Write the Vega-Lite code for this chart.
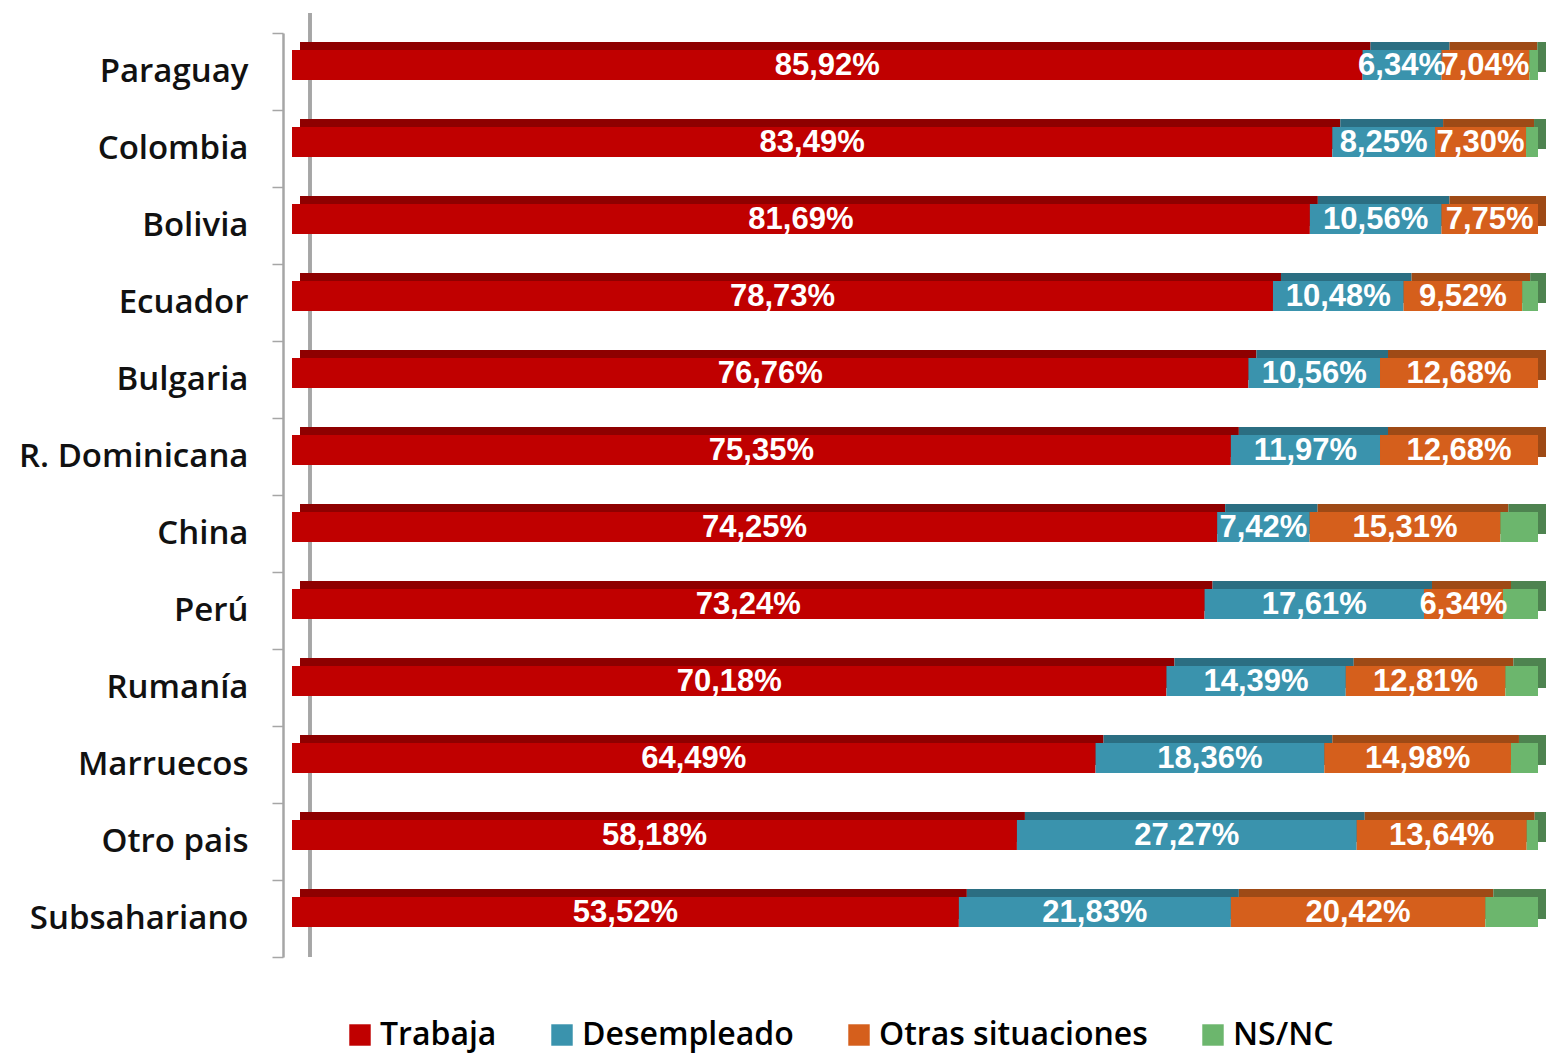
{
  "$schema": "https://vega.github.io/schema/vega-lite/v6.json",
  "width": 1246,
  "height": 924,
  "autosize": "none",
  "padding": {"left": 292, "top": 33, "right": 13, "bottom": 99},
  "background": "white",
  "config": {"view": {"stroke": null}},
  "data": {"values": [
    {"country": "Paraguay", "cat": "Trabaja", "o": 1, "v": 85.92, "lbl": "85,92%"},
    {"country": "Paraguay", "cat": "Desempleado", "o": 2, "v": 6.34, "lbl": "6,34%"},
    {"country": "Paraguay", "cat": "Otras situaciones", "o": 3, "v": 7.04, "lbl": "7,04%"},
    {"country": "Paraguay", "cat": "NS/NC", "o": 4, "v": 0.70, "lbl": ""},
    {"country": "Colombia", "cat": "Trabaja", "o": 1, "v": 83.49, "lbl": "83,49%"},
    {"country": "Colombia", "cat": "Desempleado", "o": 2, "v": 8.25, "lbl": "8,25%"},
    {"country": "Colombia", "cat": "Otras situaciones", "o": 3, "v": 7.30, "lbl": "7,30%"},
    {"country": "Colombia", "cat": "NS/NC", "o": 4, "v": 0.96, "lbl": ""},
    {"country": "Bolivia", "cat": "Trabaja", "o": 1, "v": 81.69, "lbl": "81,69%"},
    {"country": "Bolivia", "cat": "Desempleado", "o": 2, "v": 10.56, "lbl": "10,56%"},
    {"country": "Bolivia", "cat": "Otras situaciones", "o": 3, "v": 7.75, "lbl": "7,75%"},
    {"country": "Bolivia", "cat": "NS/NC", "o": 4, "v": 0.0, "lbl": ""},
    {"country": "Ecuador", "cat": "Trabaja", "o": 1, "v": 78.73, "lbl": "78,73%"},
    {"country": "Ecuador", "cat": "Desempleado", "o": 2, "v": 10.48, "lbl": "10,48%"},
    {"country": "Ecuador", "cat": "Otras situaciones", "o": 3, "v": 9.52, "lbl": "9,52%"},
    {"country": "Ecuador", "cat": "NS/NC", "o": 4, "v": 1.27, "lbl": ""},
    {"country": "Bulgaria", "cat": "Trabaja", "o": 1, "v": 76.76, "lbl": "76,76%"},
    {"country": "Bulgaria", "cat": "Desempleado", "o": 2, "v": 10.56, "lbl": "10,56%"},
    {"country": "Bulgaria", "cat": "Otras situaciones", "o": 3, "v": 12.68, "lbl": "12,68%"},
    {"country": "Bulgaria", "cat": "NS/NC", "o": 4, "v": 0.0, "lbl": ""},
    {"country": "R. Dominicana", "cat": "Trabaja", "o": 1, "v": 75.35, "lbl": "75,35%"},
    {"country": "R. Dominicana", "cat": "Desempleado", "o": 2, "v": 11.97, "lbl": "11,97%"},
    {"country": "R. Dominicana", "cat": "Otras situaciones", "o": 3, "v": 12.68, "lbl": "12,68%"},
    {"country": "R. Dominicana", "cat": "NS/NC", "o": 4, "v": 0.0, "lbl": ""},
    {"country": "China", "cat": "Trabaja", "o": 1, "v": 74.25, "lbl": "74,25%"},
    {"country": "China", "cat": "Desempleado", "o": 2, "v": 7.42, "lbl": "7,42%"},
    {"country": "China", "cat": "Otras situaciones", "o": 3, "v": 15.31, "lbl": "15,31%"},
    {"country": "China", "cat": "NS/NC", "o": 4, "v": 3.02, "lbl": ""},
    {"country": "Perú", "cat": "Trabaja", "o": 1, "v": 73.24, "lbl": "73,24%"},
    {"country": "Perú", "cat": "Desempleado", "o": 2, "v": 17.61, "lbl": "17,61%"},
    {"country": "Perú", "cat": "Otras situaciones", "o": 3, "v": 6.34, "lbl": "6,34%"},
    {"country": "Perú", "cat": "NS/NC", "o": 4, "v": 2.81, "lbl": ""},
    {"country": "Rumanía", "cat": "Trabaja", "o": 1, "v": 70.18, "lbl": "70,18%"},
    {"country": "Rumanía", "cat": "Desempleado", "o": 2, "v": 14.39, "lbl": "14,39%"},
    {"country": "Rumanía", "cat": "Otras situaciones", "o": 3, "v": 12.81, "lbl": "12,81%"},
    {"country": "Rumanía", "cat": "NS/NC", "o": 4, "v": 2.62, "lbl": ""},
    {"country": "Marruecos", "cat": "Trabaja", "o": 1, "v": 64.49, "lbl": "64,49%"},
    {"country": "Marruecos", "cat": "Desempleado", "o": 2, "v": 18.36, "lbl": "18,36%"},
    {"country": "Marruecos", "cat": "Otras situaciones", "o": 3, "v": 14.98, "lbl": "14,98%"},
    {"country": "Marruecos", "cat": "NS/NC", "o": 4, "v": 2.17, "lbl": ""},
    {"country": "Otro pais", "cat": "Trabaja", "o": 1, "v": 58.18, "lbl": "58,18%"},
    {"country": "Otro pais", "cat": "Desempleado", "o": 2, "v": 27.27, "lbl": "27,27%"},
    {"country": "Otro pais", "cat": "Otras situaciones", "o": 3, "v": 13.64, "lbl": "13,64%"},
    {"country": "Otro pais", "cat": "NS/NC", "o": 4, "v": 0.91, "lbl": ""},
    {"country": "Subsahariano", "cat": "Trabaja", "o": 1, "v": 53.52, "lbl": "53,52%"},
    {"country": "Subsahariano", "cat": "Desempleado", "o": 2, "v": 21.83, "lbl": "21,83%"},
    {"country": "Subsahariano", "cat": "Otras situaciones", "o": 3, "v": 20.42, "lbl": "20,42%"},
    {"country": "Subsahariano", "cat": "NS/NC", "o": 4, "v": 4.23, "lbl": ""}
  ]},
  "layer": [
    {
      "mark": {"type": "rule", "xOffset": 18, "yOffset": -20, "y2Offset": -20, "color": "#A6A6A6", "strokeWidth": 2.5},
      "encoding": {"x": {"datum": 0, "type": "quantitative", "scale": {"domain": [0, 100], "nice": false}, "axis": null}}
    },
    {
      "mark": {"type": "bar", "height": 30, "yOffset": -14.5, "xOffset": 8, "x2Offset": 8},
      "encoding": {
        "y": {
          "field": "country", "type": "nominal",
          "sort": ["Paraguay", "Colombia", "Bolivia", "Ecuador", "Bulgaria", "R. Dominicana", "China", "Perú", "Rumanía", "Marruecos", "Otro pais", "Subsahariano"],
          "scale": {"paddingInner": 0, "paddingOuter": 0},
          "axis": {
            "title": null,
            "domainColor": "#A6A6A6", "domainWidth": 2.5,
            "tickColor": "#A6A6A6", "tickWidth": 1.5, "tickSize": 11, "tickBand": "extent",
            "offset": 9,
            "labelFont": "Open Sans", "labelFontWeight": 600, "labelFontSize": 33,
            "labelColor": "#111111", "labelPadding": 24, "labelLimit": 0
          }
        },
        "x": {"field": "v", "type": "quantitative", "stack": "zero", "axis": null},
        "order": {"field": "o"},
        "color": {"field": "cat", "type": "nominal", "legend": null,
          "scale": {"domain": ["Trabaja", "Desempleado", "Otras situaciones", "NS/NC"], "range": ["#8E0000", "#2B6E82", "#9E4A16", "#4E8350"]}}
      }
    },
    {
      "mark": {"type": "bar", "height": 30, "yOffset": -6.5},
      "encoding": {
        "y": {"field": "country", "type": "nominal", "sort": ["Paraguay", "Colombia", "Bolivia", "Ecuador", "Bulgaria", "R. Dominicana", "China", "Perú", "Rumanía", "Marruecos", "Otro pais", "Subsahariano"]},
        "x": {"field": "v", "type": "quantitative", "stack": "zero", "axis": null},
        "order": {"field": "o"},
        "color": {"field": "cat", "type": "nominal",
          "scale": {"domain": ["Trabaja", "Desempleado", "Otras situaciones", "NS/NC"], "range": ["#C00000", "#3A93AD", "#D55F1C", "#6CB66D"]},
          "legend": {
            "title": null, "orient": "none", "direction": "horizontal",
            "legendX": 52, "legendY": 986,
            "symbolType": "square", "symbolSize": 460, "symbolStrokeWidth": 0,
            "labelFont": "Open Sans", "labelFontWeight": 600, "labelFontSize": 32, "labelColor": "#000000",
            "columnPadding": 49, "labelOffset": 4, "labelLimit": 0
          }
        }
      }
    },
    {
      "mark": {"type": "text", "yOffset": -6, "color": "white", "font": "Liberation Sans", "fontWeight": "bold", "fontSize": 31, "baseline": "middle", "align": "center"},
      "encoding": {
        "y": {"field": "country", "type": "nominal", "sort": ["Paraguay", "Colombia", "Bolivia", "Ecuador", "Bulgaria", "R. Dominicana", "China", "Perú", "Rumanía", "Marruecos", "Otro pais", "Subsahariano"]},
        "x": {"field": "v", "type": "quantitative", "stack": "zero", "bandPosition": 0.5},
        "order": {"field": "o"},
        "detail": {"field": "cat"},
        "text": {"field": "lbl"}
      }
    }
  ],
  "resolve": {"scale": {"color": "independent"}, "legend": {"color": "independent"}}
}
